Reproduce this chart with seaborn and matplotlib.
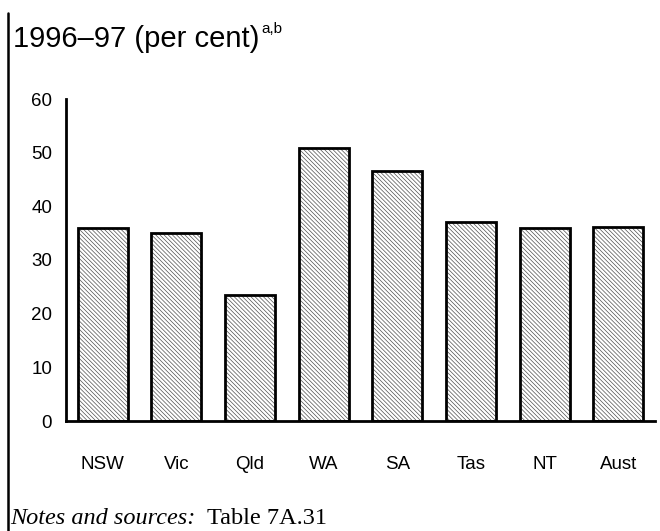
import matplotlib
matplotlib.use("Agg")
import matplotlib.pyplot as plt
import seaborn as sns
import pandas as pd
from matplotlib.lines import Line2D
from matplotlib.patches import Rectangle

states = ["NSW", "Vic", "Qld", "WA", "SA", "Tas", "NT", "Aust"]
values = [35.9, 35.1, 23.5, 50.9, 46.6, 37.0, 35.9, 36.1]
yticks = [0, 10, 20, 30, 40, 50, 60]

sns.set_theme(style="white")
plt.rcParams['font.family'] = ['Liberation Sans', 'DejaVu Sans']
plt.rcParams['hatch.linewidth'] = 0.5

df = pd.DataFrame({"state": states, "value": values})

fig = plt.figure(figsize=(6.6, 5.31), dpi=100)
ax = fig.add_axes([66/660, 1-421/531, (655-66)/660, (421-99)/531])

sns.barplot(data=df, x="state", y="value", order=states, ax=ax,
            color="white", width=0.68, edgecolor="#505050", linewidth=0,
            hatch="\\" * 8)
bars = list(ax.patches)
for p in bars:
    p.set_facecolor("white")
    p.set_edgecolor("#505050")
    p.set_linewidth(0)
    ax.add_patch(Rectangle(p.get_xy(), p.get_width(), p.get_height(),
                           fill=False, edgecolor="black", linewidth=2.0,
                           zorder=p.get_zorder() + 0.1))

ax.set_ylim(0, 60)
ax.set_xlim(-0.5, 7.5)
ax.set_yticks(yticks)
ax.set_yticklabels([str(t) for t in yticks])
ax.set_xlabel("")
ax.set_ylabel("")
for s in ["top", "right"]:
    ax.spines[s].set_visible(False)
for s in ["left", "bottom"]:
    ax.spines[s].set_color("black")
    ax.spines[s].set_linewidth(2.0)
    ax.spines[s].set_zorder(5)
ax.tick_params(axis="y", length=0, pad=10, labelsize=13.5, colors="black")
ax.tick_params(axis="x", length=0, pad=25, labelsize=13.5, colors="black")
ax.grid(False)

fig.add_artist(Line2D([8/660, 8/660], [0, 1-13/531], transform=fig.transFigure,
                      color="black", linewidth=1.8))

fig.text(13/660, 1-47/531, "1996–97 (per cent)", fontsize=21, va="baseline",
         ha="left", color="black")
fig.text(261/660, 1-33/531, "a,b", fontsize=11, va="baseline", ha="left",
         color="black")

fig.text(10/660, 1-524/531, "Notes and sources:", fontsize=17.5, style="italic",
         family=["Liberation Serif", "DejaVu Serif"], va="baseline", ha="left",
         color="black")
fig.text(207/660, 1-524/531, "Table 7A.31", fontsize=17.5,
         family=["Liberation Serif", "DejaVu Serif"], va="baseline", ha="left",
         color="black")

fig.savefig("out.png", dpi=100)
